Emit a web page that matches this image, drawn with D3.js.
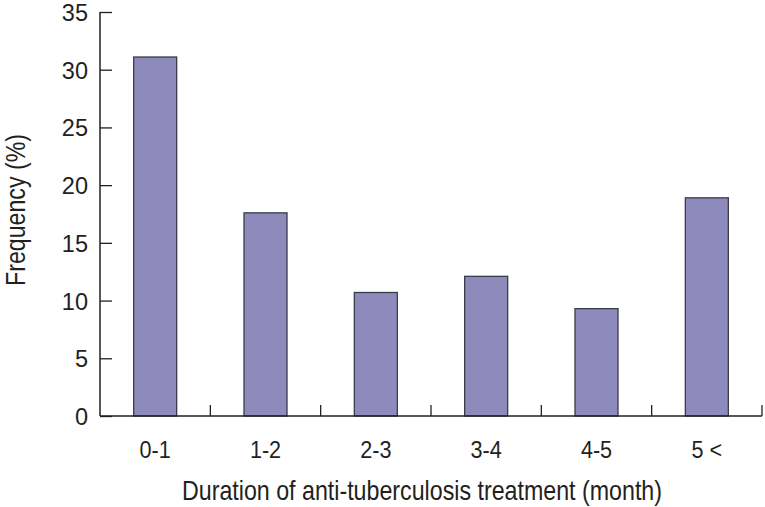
<!DOCTYPE html>
<meta charset="utf-8">
<style>
body { margin: 0; background: #fff; }
text { font-family: "Liberation Sans", Arial, sans-serif; fill: #231f20; }
</style>
<svg width="765" height="507"></svg>
<script src="https://d3js.org/d3.v7.min.js"></script>
<script>

// data
var categories = ["0-1", "1-2", "2-3", "3-4", "4-5", "5 <"];
var frequency = [31.1, 17.6, 10.7, 12.1, 9.3, 18.9];
var yTicks = [0, 5, 10, 15, 20, 25, 30, 35];

var svg = d3.select("svg");
var narrow = 0.92; // the original face is a bit narrower

var x = d3.scaleBand()
    .domain(categories)
    .range([100, 762])
    .paddingInner(0)
    .paddingOuter(0);

var y = d3.scaleLinear()
    .domain([0, 35])
    .range([416, 12]);

var barW = 43;

// bars
svg.selectAll(".bar")
    .data(frequency)
    .enter().append("rect")
    .attr("class", "bar")
    .attr("x", function(d, i) { return x(categories[i]) + x.bandwidth() / 2 - barW / 2; })
    .attr("y", function(d) { return y(d); })
    .attr("width", barW)
    .attr("height", function(d) { return y(0) - y(d); })
    .attr("fill", "#8e8bbc")
    .attr("stroke", "#3b3a48")
    .attr("stroke-width", 1.3);

// y axis, ticks pointing inward
var yAxis = svg.append("g")
    .attr("transform", "translate(100,0)")
    .call(d3.axisRight(y).tickValues(yTicks).tickSize(12).tickFormat(""));
yAxis.select(".domain").remove();
yAxis.selectAll("line").attr("stroke", "#231f20").attr("stroke-width", 1.3);

svg.append("line")
    .attr("x1", 100).attr("x2", 100)
    .attr("y1", y(35)).attr("y2", y(0))
    .attr("stroke", "#231f20").attr("stroke-width", 1.5);

svg.selectAll(".ylab")
    .data(yTicks)
    .enter().append("text")
    .attr("class", "ylab")
    .attr("x", 88)
    .attr("y", function(d) { return y(d) + 9; })
    .attr("text-anchor", "end")
    .style("font-size", "23.5px")
    .text(function(d) { return d; });

// x axis: baseline + dividers between categories
svg.append("line")
    .attr("x1", 100).attr("x2", 762)
    .attr("y1", y(0)).attr("y2", y(0))
    .attr("stroke", "#231f20").attr("stroke-width", 1.5);

var edges = categories.slice(1).map(function(c) { return x(c); }).concat([x.range()[1]]);
svg.selectAll(".xtick")
    .data(edges)
    .enter().append("line")
    .attr("class", "xtick")
    .attr("x1", function(d) { return d; })
    .attr("x2", function(d) { return d; })
    .attr("y1", y(0))
    .attr("y2", y(0) - 11)
    .attr("stroke", "#231f20").attr("stroke-width", 1.3);

svg.selectAll(".xlab")
    .data(categories)
    .enter().append("text")
    .attr("class", "xlab")
    .attr("transform", function(d) { return "translate(" + (x(d) + x.bandwidth() / 2) + ",457.5) scale(" + narrow + ",1)"; })
    .attr("text-anchor", "middle")
    .style("font-size", "23.5px")
    .text(function(d) { return d; });

// axis titles
svg.append("text")
    .attr("x", 422)
    .attr("y", 500)
    .attr("text-anchor", "middle")
    .attr("textLength", 480)
    .attr("lengthAdjust", "spacingAndGlyphs")
    .style("font-size", "28px")
    .text("Duration of anti-tuberculosis treatment (month)");

svg.append("text")
    .attr("transform", "translate(25,210) rotate(-90)")
    .attr("text-anchor", "middle")
    .attr("textLength", 152)
    .attr("lengthAdjust", "spacingAndGlyphs")
    .style("font-size", "28px")
    .text("Frequency (%)");

</script>
